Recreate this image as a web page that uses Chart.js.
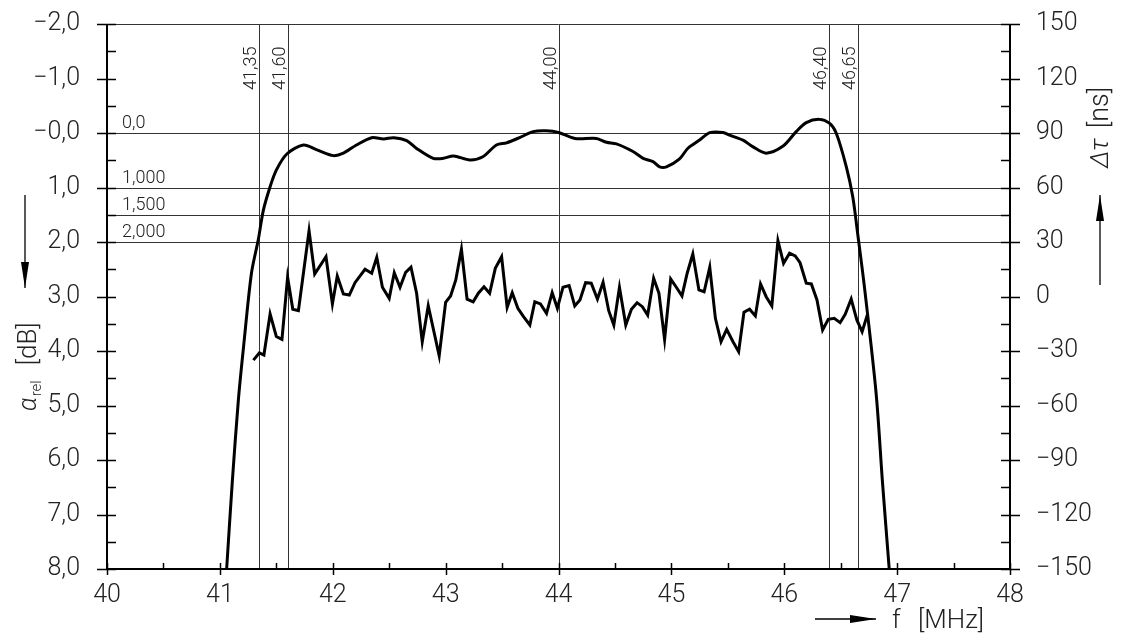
<!DOCTYPE html>
<html>
<head>
<meta charset="utf-8">
<script src="https://cdn.jsdelivr.net/npm/chart.js@4.4.1/dist/chart.umd.min.js"></script>
<style>
  html, body { margin: 0; padding: 0; background: #fff; }
  #wrap { width: 1121px; height: 637px; position: relative; }
</style>
</head>
<body>
<div id="wrap"><canvas id="chart"></canvas></div>
<script>
// font used for all texts
const FONT = 'Roboto, "Open Sans", sans-serif';

// attenuation curve (left axis, dB)
const ampFreq = [41.06, 41.11, 41.165, 41.21, 41.28, 41.34, 41.386, 41.445, 41.50, 41.593,
  41.74, 41.86, 42.005, 42.094, 42.21, 42.345, 42.45, 42.54, 42.655, 42.74,
  42.89, 42.98, 43.07, 43.215, 43.33, 43.45, 43.54, 43.66, 43.775, 43.89,
  44.0, 44.145, 44.335, 44.425, 44.513, 44.66, 44.75, 44.837, 44.896, 44.956,
  45.07, 45.147, 45.25, 45.34, 45.457, 45.516, 45.634, 45.72, 45.84, 45.99,
  46.106, 46.195, 46.31, 46.40, 46.46, 46.55, 46.607, 46.65, 46.71, 46.814,
  46.87, 46.93];
const ampDb = [8.0, 6.4, 4.87, 3.92, 2.57, 1.96, 1.41, 0.985, 0.68, 0.385,
  0.22, 0.31, 0.415, 0.37, 0.22, 0.086, 0.11, 0.086, 0.14, 0.28,
  0.465, 0.465, 0.42, 0.495, 0.435, 0.22, 0.18, 0.08, -0.025, -0.04,
  -0.01, 0.1, 0.1, 0.17, 0.2, 0.34, 0.465, 0.525, 0.62, 0.62,
  0.48, 0.28, 0.13, -0.006, -0.01, 0.04, 0.13, 0.25, 0.37, 0.24,
  -0.025, -0.19, -0.25, -0.18, 0.0, 0.62, 1.17, 1.84, 2.82, 4.78,
  6.4, 8.0];

// group delay curve (right axis, ns)
const delayFreq = [41.297, 41.35, 41.39, 41.445, 41.50, 41.55, 41.60, 41.646, 41.696, 41.79,
  41.84, 41.94, 41.997, 42.04, 42.094, 42.147, 42.197, 42.286, 42.345, 42.39,
  42.44, 42.50, 42.545, 42.596, 42.646, 42.693, 42.743, 42.793, 42.846, 42.943,
  43.0, 43.044, 43.09, 43.14, 43.19, 43.244, 43.29, 43.34, 43.39, 43.44,
  43.496, 43.545, 43.59, 43.64, 43.69, 43.746, 43.79, 43.84, 43.894, 43.944,
  43.99, 44.04, 44.094, 44.144, 44.19, 44.24, 44.29, 44.345, 44.395, 44.445,
  44.49, 44.54, 44.596, 44.646, 44.696, 44.743, 44.79, 44.843, 44.89, 44.94,
  44.994, 45.044, 45.094, 45.14, 45.19, 45.244, 45.29, 45.34, 45.39, 45.44,
  45.49, 45.546, 45.596, 45.643, 45.693, 45.744, 45.79, 45.84, 45.89, 45.944,
  45.994, 46.047, 46.097, 46.14, 46.195, 46.24, 46.29, 46.34, 46.39, 46.443,
  46.495, 46.54, 46.593, 46.643, 46.69, 46.74];
const delayNs = [-35, -31, -32.2, -9.6, -22, -23.6, 10.6, -7, -7.8, 36.2,
  12.4, 21.9, -4.1, 11.3, 1.4, 0.8, 7.6, 15, 12.8, 21.6,
  5.1, -1, 13.1, 5.1, 13.3, 16.1, 1.8, -24.9, -5.1, -32.6,
  -3.2, 0.3, 9.1, 26, -1.5, -2.9, 1.8, 5.4, 1.8, 15.5,
  21.9, -6, 2.1, -6.5, -11.1, -15.7, -2.9, -4.1, -9.3, 2.1,
  -6.5, 5.1, 6, -5.2, -1.9, 7.6, 7.3, -1.4, 7.8, -7.8,
  -15.7, 5.1, -15.7, -7, -3.4, -5.6, -10.2, 10, 1.8, -23.6,
  9.6, 5.1, 0.3, 12.8, 23.4, 3.6, 2.6, 16.1, -12, -24.9,
  -18.1, -24.9, -30.4, -8.7, -7, -10.7, 6.9, -0.1, -5.2, 30.7,
  18.3, 23.8, 22.3, 18.6, 7.3, 6.9, -1.9, -18.4, -12.6, -12,
  -14.4, -9.8, -1.4, -12.9, -19.4, -9.3];

// reference lines
const markerFreqs = [41.35, 41.60, 44.00, 46.40, 46.65];
const markerLabels = ['41,35', '41,60', '44,00', '46,40', '46,65'];
const levelDb = [0, 1, 1.5, 2];
const levelLabels = ['0,0', '1,000', '1,500', '2,000'];

function toPoints(xs, ys) {
  return xs.map((x, i) => ({ x: x, y: ys[i] }));
}

function fmtDb(v) {
  const s = Math.abs(v).toFixed(1).replace('.', ',');
  return v <= 0 ? '\u2212' + s : s;
}

function fmtNs(v) {
  return v < 0 ? '\u2212' + Math.abs(v) : String(v);
}

function arrow(ctx, x1, y1, x2, y2, headLen, headW) {
  const ang = Math.atan2(y2 - y1, x2 - x1);
  ctx.beginPath();
  ctx.moveTo(x1, y1);
  ctx.lineTo(x2, y2);
  ctx.stroke();
  ctx.save();
  ctx.translate(x2, y2);
  ctx.rotate(ang);
  ctx.beginPath();
  ctx.moveTo(0, 0);
  ctx.lineTo(-headLen, -headW / 2);
  ctx.lineTo(-headLen, headW / 2);
  ctx.closePath();
  ctx.fill();
  ctx.restore();
}

// no extra padding from tick labels, keep the plot box fixed
function noPad(s) {
  s.paddingTop = 0; s.paddingBottom = 0; s.paddingLeft = 0; s.paddingRight = 0;
}

// grid lines, markers, axis frame, ticks, titles
const decor = {
  id: 'decor',
  beforeDatasetsDraw(chart) {
    const ctx = chart.ctx, a = chart.chartArea;
    const x = chart.scales.x, y = chart.scales.y;
    ctx.save();
    ctx.strokeStyle = '#333';
    ctx.lineWidth = 1;
    // horizontal levels
    levelDb.forEach(v => {
      const py = Math.round(y.getPixelForValue(v)) + 0.5;
      ctx.beginPath(); ctx.moveTo(a.left, py); ctx.lineTo(a.right, py); ctx.stroke();
    });
    // top border
    ctx.beginPath(); ctx.moveTo(a.left, a.top + 0.5); ctx.lineTo(a.right, a.top + 0.5); ctx.stroke();
    // vertical markers
    markerFreqs.forEach(f => {
      const px = Math.round(x.getPixelForValue(f)) + 0.5;
      ctx.beginPath(); ctx.moveTo(px, a.top); ctx.lineTo(px, a.bottom); ctx.stroke();
    });
    // labels
    ctx.fillStyle = '#222';
    ctx.font = '300 18px ' + FONT;
    ctx.textAlign = 'left';
    ctx.textBaseline = 'alphabetic';
    levelDb.forEach((v, i) => {
      ctx.fillText(levelLabels[i], a.left + 15, y.getPixelForValue(v) - 5);
    });
    markerFreqs.forEach((f, i) => {
      ctx.save();
      ctx.translate(x.getPixelForValue(f) - 3, a.top + 66);
      ctx.rotate(-Math.PI / 2);
      ctx.fillText(markerLabels[i], 0, 0);
      ctx.restore();
    });
    ctx.restore();
  },
  afterDraw(chart) {
    const ctx = chart.ctx, a = chart.chartArea;
    const x = chart.scales.x, y = chart.scales.y;
    ctx.save();
    ctx.strokeStyle = '#000';
    ctx.fillStyle = '#000';
    // frame
    ctx.lineWidth = 2;
    ctx.beginPath();
    ctx.moveTo(a.left, a.top); ctx.lineTo(a.left, a.bottom); ctx.lineTo(a.right, a.bottom); ctx.lineTo(a.right, a.top);
    ctx.stroke();
    // ticks
    ctx.lineWidth = 1.5;
    for (let v = -2; v <= 8; v += 0.5) {
      const py = Math.round(y.getPixelForValue(v)) + 0.5;
      const major = Number.isInteger(v);
      ctx.beginPath();
      ctx.moveTo(a.left - (major ? 10 : 0), py); ctx.lineTo(a.left + 9, py);
      ctx.moveTo(a.right - 9, py); ctx.lineTo(a.right + (major ? 10 : 0), py);
      ctx.stroke();
    }
    for (let f = 40; f <= 48; f += 0.5) {
      const px = Math.round(x.getPixelForValue(f)) + 0.5;
      const major = Number.isInteger(f);
      ctx.beginPath();
      ctx.moveTo(px, a.bottom - 6); ctx.lineTo(px, a.bottom + (major ? 6 : 0));
      ctx.stroke();
    }
    // axis arrows
    ctx.lineWidth = 1.3;
    arrow(ctx, 25, 195, 25, 288, 26, 8);
    arrow(ctx, 1100, 285, 1100, 195, 26, 8);
    arrow(ctx, 815, 619, 876, 619, 26, 8);
    // axis titles
    ctx.fillStyle = '#222';
    ctx.textBaseline = 'alphabetic';
    // left: alpha_rel [dB]
    ctx.save();
    ctx.translate(36, 411);
    ctx.rotate(-Math.PI / 2);
    ctx.font = 'italic 300 25px ' + FONT;
    ctx.fillText('\u03B1', 0, 0);
    let w = ctx.measureText('\u03B1').width;
    ctx.font = '300 15px ' + FONT;
    ctx.fillText('rel', w + 1, 5);
    w += ctx.measureText('rel').width + 16;
    ctx.font = '300 26px ' + FONT;
    ctx.fillText('[dB]', w, 0);
    ctx.restore();
    // right: delta tau [ns]
    ctx.save();
    ctx.translate(1108, 168);
    ctx.rotate(-Math.PI / 2);
    ctx.font = 'italic 300 26px ' + FONT;
    ctx.fillText('\u0394\u03C4', 0, 0);
    w = ctx.measureText('\u0394\u03C4').width + 10;
    ctx.font = '300 27px ' + FONT;
    ctx.fillText('[ns]', w, 0);
    ctx.restore();
    // bottom: f [MHz]
    ctx.font = '300 26px ' + FONT;
    ctx.fillText('f', 892, 628);
    ctx.fillText('[MHz]', 918, 628);
    ctx.restore();
  }
};

const tickFont = { family: FONT, size: 25, weight: '300' };

new Chart(document.getElementById('chart'), {
  type: 'scatter',
  data: {
    datasets: [
      {
        label: 'a_rel',
        data: toPoints(ampFreq, ampDb),
        yAxisID: 'y',
        showLine: true,
        borderColor: '#000',
        borderWidth: 3,
        pointRadius: 0,
        tension: 0.3,
        fill: false
      },
      {
        label: 'delay',
        data: toPoints(delayFreq, delayNs),
        yAxisID: 'y2',
        showLine: true,
        borderColor: '#000',
        borderWidth: 3,
        pointRadius: 0,
        tension: 0,
        fill: false
      }
    ]
  },
  options: {
    responsive: true,
    maintainAspectRatio: false,
    animation: false,
    layout: { padding: { top: 24, left: 0, right: 0, bottom: 0 } },
    plugins: { legend: { display: false }, tooltip: { enabled: false } },
    scales: {
      x: {
        type: 'linear', position: 'bottom', min: 40, max: 48,
        grid: { display: false }, border: { display: false },
        ticks: { stepSize: 1, padding: 4, color: '#222', font: tickFont, maxRotation: 0 },
        afterFit: s => { s.height = 68; noPad(s); }
      },
      y: {
        type: 'linear', position: 'left', reverse: true, min: -2, max: 8,
        grid: { display: false }, border: { display: false },
        ticks: { stepSize: 1, padding: 19, color: '#222', font: tickFont, callback: v => fmtDb(v) },
        afterFit: s => { s.width = 107; noPad(s); }
      },
      y2: {
        type: 'linear', position: 'right', min: -150, max: 150,
        grid: { display: false }, border: { display: false },
        ticks: { stepSize: 30, padding: 18, color: '#222', font: tickFont, callback: v => fmtNs(v) },
        afterFit: s => { s.width = 111; noPad(s); }
      }
    }
  },
  plugins: [decor]
});
</script>
</body>
</html>
